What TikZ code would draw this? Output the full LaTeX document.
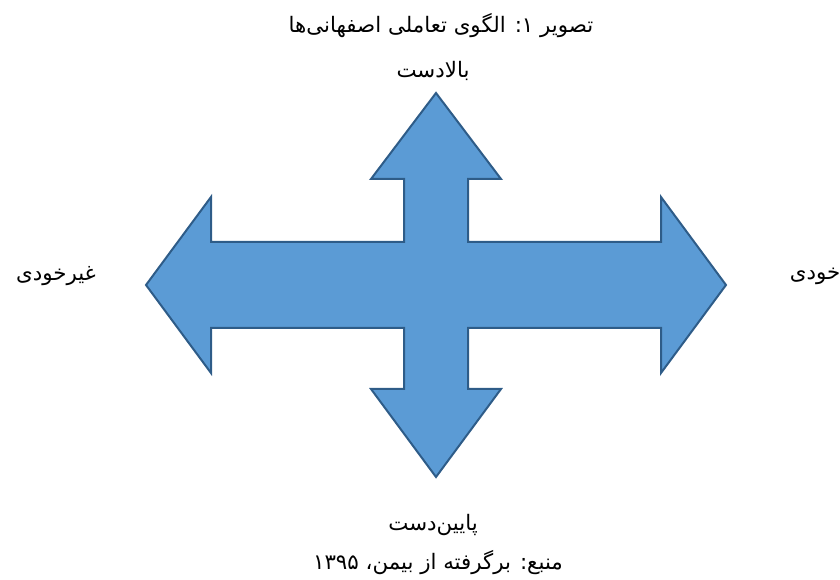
\documentclass[tikz,border=0pt]{standalone}
\usepackage{fontspec}
\usepackage{tikz}
\newfontfamily\persianfont[Script=Arabic]{DejaVu Sans}
\TeXXeTstate=1

\definecolor{crossfill}{HTML}{5B9BD5}
\definecolor{crossline}{HTML}{2E5C88}
\tikzset{fa/.style={font=\persianfont\fontsize{16}{19}\selectfont, inner sep=1pt}}

\begin{document}
\begin{tikzpicture}[x=0.75pt, y=-0.75pt]
  \useasboundingbox (0,0) rectangle (840,580);
  % four-way arrow
  \draw[crossline, fill=crossfill, line width=1.5pt, line join=miter]
    (146,285) -- (211,197) -- (211,242) -- (404,242) -- (404,179)
    -- (371,179) -- (436,93) -- (501,179) -- (468,179) -- (468,242)
    -- (661,242) -- (661,197) -- (726,285) -- (661,373) -- (661,328)
    -- (468,328) -- (468,389) -- (501,389) -- (436,477) -- (371,389)
    -- (404,389) -- (404,328) -- (211,328) -- (211,373) -- cycle;
  \node[fa] (title) at (441,26) {\beginR تصویر ۱: الگوی تعاملی اصفهانی‌ها\endR};
  \node[fa] (up) at (433,71) {\beginR بالادست\endR};
  \node[fa] (down) at (433,525) {\beginR پایین‌دست\endR};
  \node[fa] (outsider) at (56,276) {\beginR غیرخودی\endR};
  \node[fa, anchor=east] (insider) at (842,276) {\beginR خودی\endR};
  \node[fa] (source) at (438,563) {\beginR منبع: برگرفته از بیمن، ۱۳۹۵\endR};
\end{tikzpicture}
\end{document}
